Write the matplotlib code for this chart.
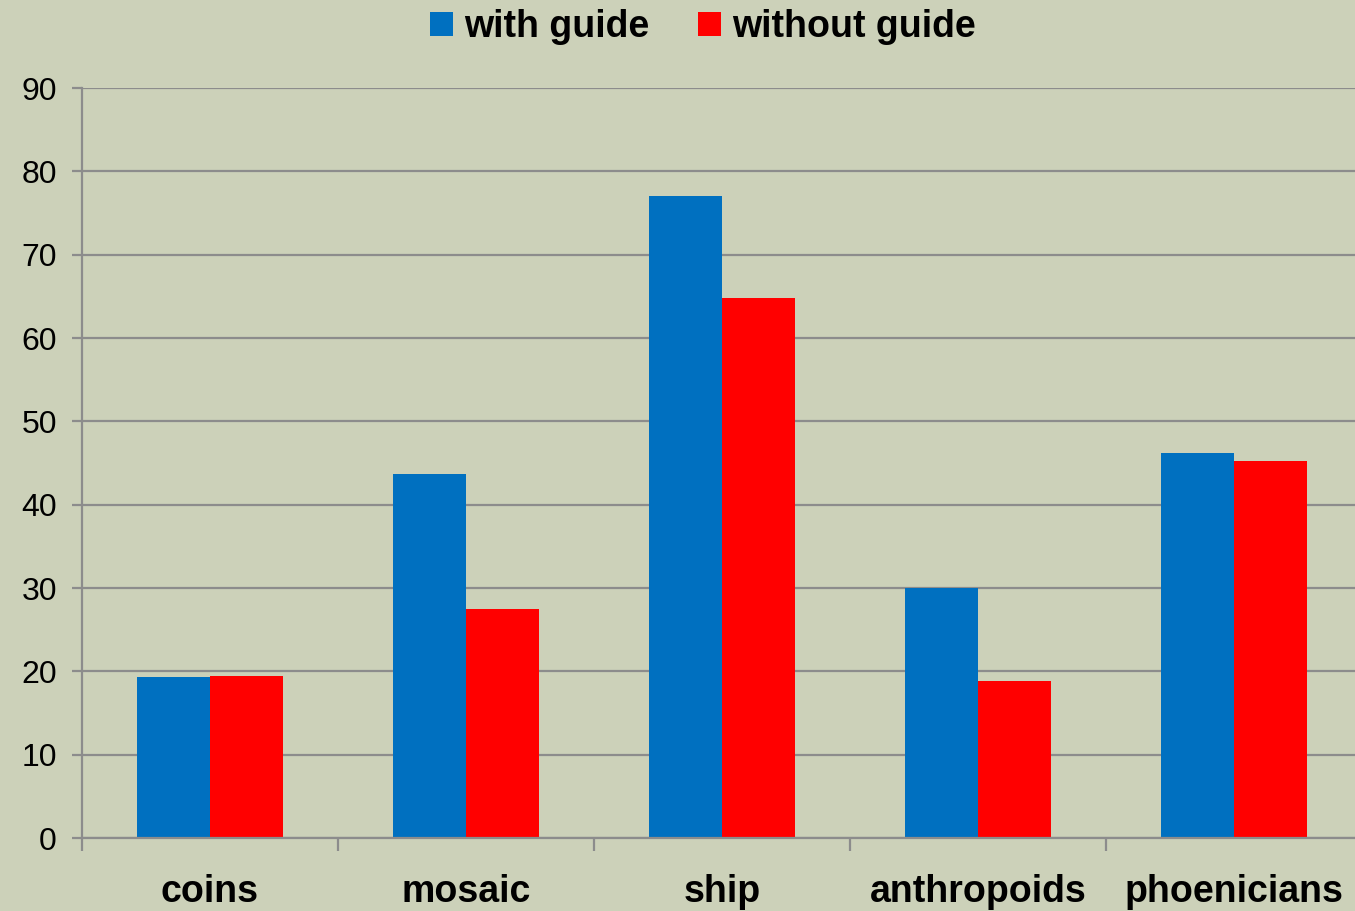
import numpy as np
import matplotlib.pyplot as plt
from matplotlib.patches import Patch

categories = ['coins', 'mosaic', 'ship', 'anthropoids', 'phoenicians']
with_guide = [19.3, 43.7, 77.0, 30.0, 46.2]
without_guide = [19.4, 27.5, 64.8, 18.8, 45.2]
series_names = ['with guide', 'without guide']
yticks = [0, 10, 20, 30, 40, 50, 60, 70, 80, 90]

bg = '#CCD1B9'
blue = '#0070C0'
red = '#FF0000'
grid_c = '#8C8C8C'

plt.rcParams['font.family'] = ['Liberation Sans', 'DejaVu Sans']

fig = plt.figure(figsize=(13.55, 9.11), dpi=100, facecolor=bg)
ax = fig.add_axes([82 / 1355, 73 / 911, 1 - 82 / 1355, 750 / 911])
ax.set_facecolor(bg)

x = np.arange(len(categories))
w = 73 / 256
ax.bar(x - w / 2, with_guide, w, color=blue, zorder=3)
ax.bar(x + w / 2, without_guide, w, color=red, zorder=3)

ax.set_yticks(yticks)
ax.set_yticklabels([str(v) for v in yticks], fontsize=23)
ax.grid(axis='y', color=grid_c, linewidth=1.6, zorder=1)

# boundary ticks as major, labels on minor ticks at centres
ax.set_xticks(np.arange(len(categories) + 1) - 0.5)
ax.set_xticklabels([])
ax.set_xticks(x, minor=True)
ax.set_xticklabels(categories, minor=True, fontsize=27, fontweight='bold')
ax.tick_params(axis='x', which='major', length=9, width=1.6, color=grid_c)
ax.tick_params(axis='x', which='minor', length=0, pad=26)
ax.tick_params(axis='y', length=7, width=1.6, color=grid_c, pad=11)

# limits last, set_xticks would widen them
ax.set_xlim(-0.5, -0.5 + (1355 - 82) / 256)
ax.set_ylim(0, 90)

for s in ['top', 'right']:
    ax.spines[s].set_visible(False)
for s in ['left', 'bottom']:
    ax.spines[s].set_color(grid_c)
    ax.spines[s].set_linewidth(1.6)
    ax.spines[s].set_zorder(4)

handles = [Patch(facecolor=blue), Patch(facecolor=red)]
fig.legend(handles, series_names, loc='center', bbox_to_anchor=(703 / 1355, 1 - 27 / 911),
           ncol=2, frameon=False, prop={'size': 27, 'weight': 'bold'},
           handlelength=0.6, handleheight=0.6, handletextpad=0.3, columnspacing=1.3)

fig.savefig('out.png', dpi=100, facecolor=bg)
